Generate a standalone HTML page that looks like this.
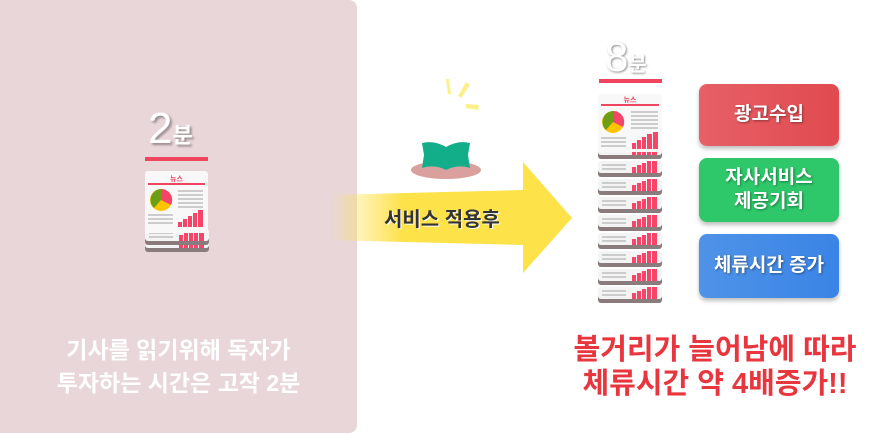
<!DOCTYPE html>
<html><head><meta charset="utf-8"><style>
body{margin:0;width:891px;height:433px;background:#fff;position:relative;overflow:hidden;font-family:"Liberation Sans","Noto Sans CJK KR",sans-serif}
.abs{position:absolute}
.btn{position:absolute;left:699px;width:140px;border-radius:8px;color:#fff;font-weight:bold;font-size:19px;text-align:center;display:flex;align-items:center;justify-content:center;line-height:24px;box-shadow:0 3px 4px rgba(0,0,0,.25);text-shadow:1px 1px 2px rgba(0,0,0,.4)}
</style></head><body>
<div class="abs" style="left:0;top:0;width:357px;height:433px;background:#e8d6d9;border-radius:0 8px 8px 0"></div>
<div class="abs" style="left:148px;top:106px;font-size:44px;color:#fff;text-shadow:2px 2px 2px rgba(0,0,0,.35);line-height:46px">2<span style="font-size:22px;font-weight:bold">분</span></div>
<div class="abs" style="left:145px;top:157px;width:63px;height:4px;background:#f0455f"></div>
<svg class="abs" style="left:0;top:0" width="891" height="433">
<defs>
<linearGradient id="ag" x1="0" x2="1"><stop offset="0" stop-color="#fde24a" stop-opacity="0"/><stop offset="0.3" stop-color="#fde24a"/><stop offset="1" stop-color="#fde24a"/></linearGradient>
<g id="paperbase">
<rect x="0" y="4" width="64" height="12" rx="3" fill="#8a7c7c"/>
<rect x="0" y="0" width="64" height="12" rx="3" fill="#f4f4f4"/>
<g fill="#ccc"><rect x="4" y="3" width="24" height="2"/><rect x="4" y="7" width="24" height="2"/></g>
<g fill="#f5466a"><rect x="34" y="6" width="4" height="6"/><rect x="39" y="4" width="4" height="8"/><rect x="44" y="2" width="4" height="10"/><rect x="49" y="0" width="4" height="12"/><rect x="54" y="0" width="5" height="12"/></g>
</g>
</defs>
<use href="#paperbase" x="145" y="236"/>
<use href="#paperbase" x="145" y="229"/>
<rect x="145" y="171" width="63" height="62" rx="3" fill="#f8f8f8"/>
<rect x="148" y="183" width="57" height="2" fill="#f0455f"/>
<text x="176.5" y="181" font-size="7" fill="#f0455f" font-weight="bold" text-anchor="middle">뉴스</text>
<circle cx="161" cy="200" r="11" fill="#ffc400"/><path d="M161 200 L161 189 A11 11 0 0 1 171 205 Z" fill="#f5466a"/><path d="M161 200 L161 189 A11 11 0 0 0 154 208 Z" fill="#6c9f16"/>
<g fill="#ccc"><rect x="178" y="190" width="25" height="2"/><rect x="178" y="194" width="25" height="2"/><rect x="178" y="198" width="25" height="2"/><rect x="178" y="202" width="25" height="2"/><rect x="178" y="206" width="25" height="2"/><rect x="148" y="214" width="25" height="2"/><rect x="148" y="218" width="25" height="2"/><rect x="148" y="222" width="25" height="2"/></g>
<g fill="#f5466a"><rect x="178" y="222" width="4" height="5"/><rect x="183" y="219" width="4" height="8"/><rect x="188" y="216" width="4" height="11"/><rect x="193" y="213" width="4" height="14"/><rect x="198" y="210" width="5" height="17"/></g>
<path d="M330 195 L523 190 L523 162 L572 218 L523 273 L523 245 L330 240 Z" fill="url(#ag)"/>
<ellipse cx="446" cy="170" rx="35" ry="9" fill="#d9a09e"/>
<path d="M422 143 Q434 140 446 147 Q458 140 470 143 L468 155 L470 168 Q458 164 446 170 Q434 164 422 168 L424 155 Z" fill="#12ae8a"/>
<g fill="#fdf08a"><polygon points="446,79 449,79 451,94 448,94"/><polygon points="466,82 470,85 461,98 458,96"/><polygon points="466,104 479,105 478,110 466,108"/></g>
<use href="#paperbase" x="598" y="287"/><use href="#paperbase" x="598" y="269"/><use href="#paperbase" x="598" y="251"/><use href="#paperbase" x="598" y="233"/><use href="#paperbase" x="598" y="215"/><use href="#paperbase" x="598" y="197"/><use href="#paperbase" x="598" y="179"/><use href="#paperbase" x="598" y="161"/><use href="#paperbase" x="598" y="143"/>
<rect x="598" y="94" width="64" height="58" rx="3" fill="#f8f8f8"/>
<rect x="601" y="104" width="58" height="2" fill="#f0455f"/>
<text x="630" y="102" font-size="7" fill="#f0455f" font-weight="bold" text-anchor="middle">뉴스</text>
<circle cx="613" cy="122" r="11" fill="#ffc400"/><path d="M613 122 L613 111 A11 11 0 0 1 623 127 Z" fill="#f5466a"/><path d="M613 122 L613 111 A11 11 0 0 0 606 130 Z" fill="#6c9f16"/>
<g fill="#ccc"><rect x="631" y="111" width="27" height="2"/><rect x="631" y="115" width="27" height="2"/><rect x="631" y="119" width="27" height="2"/><rect x="631" y="123" width="27" height="2"/><rect x="631" y="127" width="27" height="2"/><rect x="601" y="137" width="25" height="2"/><rect x="601" y="141" width="25" height="2"/><rect x="601" y="145" width="25" height="2"/></g>
<g fill="#f5466a"><rect x="632" y="143" width="4" height="6"/><rect x="637" y="140" width="4" height="9"/><rect x="642" y="137" width="4" height="12"/><rect x="647" y="134" width="5" height="15"/><rect x="653" y="132" width="5" height="17"/></g>
</svg>
<div class="abs" style="left:384px;top:203px;font-size:20px;font-weight:bold;color:#333;text-shadow:1px 1px 0 #fff">서비스 적용후</div>
<div class="abs" style="left:605px;top:34px;font-size:42px;color:#fff;text-shadow:1px 1px 2px rgba(0,0,0,.45);line-height:46px">8<span style="font-size:20px;font-weight:bold;color:#fff">분</span></div>
<div class="abs" style="left:599px;top:79px;width:63px;height:4px;background:#f0455f"></div>
<div class="btn" style="top:84px;height:62px;background:linear-gradient(90deg,#e66066,#e04a50)">광고수입</div>
<div class="btn" style="top:158px;height:64px;background:#2ec86a">자사서비스<br>제공기회</div>
<div class="btn" style="top:234px;height:64px;background:linear-gradient(90deg,#4f93e8,#3a84e6)">체류시간 증가</div>
<div class="abs" style="left:0;width:357px;top:334px;text-align:center;color:#fff;font-size:23px;font-weight:bold;line-height:33px">기사를 읽기위해 독자가<br>투자하는 시간은 고작 2분</div>
<div class="abs" style="left:545px;width:340px;top:333px;text-align:center;color:#e8363f;font-size:29px;font-weight:bold;line-height:34px">볼거리가 늘어남에 따라<br>체류시간 약 4배증가!!</div>
</body></html>
